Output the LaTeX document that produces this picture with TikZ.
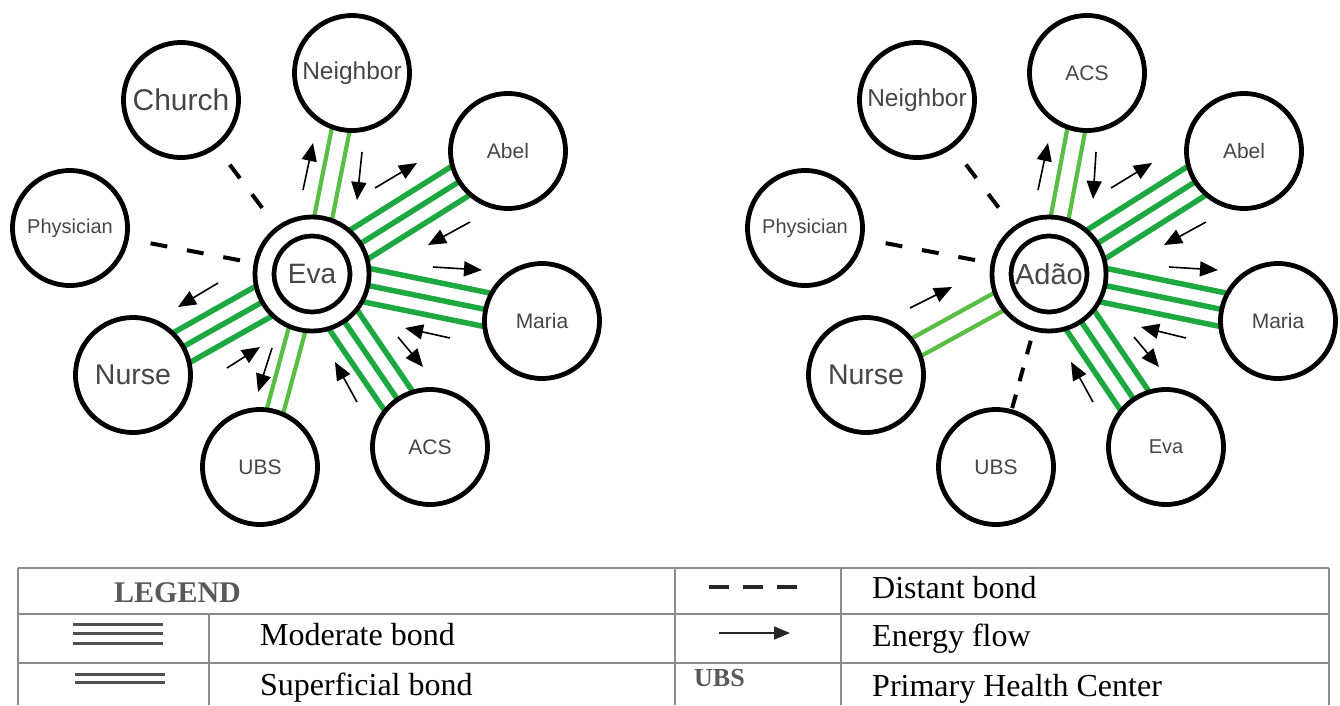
\documentclass[tikz,border=0pt]{standalone}
\usepackage{fontspec}
\setmainfont{Liberation Serif}
\newfontfamily\sansf{Liberation Sans}
\usetikzlibrary{calc,arrows.meta}
\pgfdeclarelayer{bg}
\pgfsetlayers{bg,main}
\definecolor{gthree}{RGB}{30,168,66}
\definecolor{gtwo}{RGB}{88,190,68}
\definecolor{txtg}{RGB}{70,70,70}
\definecolor{tabg}{RGB}{140,140,140}
\definecolor{symg}{RGB}{80,80,80}
\newcommand\fsz[1]{\fontsize{#1}{#1}\selectfont}
\newcommand\bondset[4]{\foreach \o in {#3}{\draw[#4] ($(#1.center)!\o!90:(#2.center)$) -- ($(#2.center)!\o!-90:(#1.center)$);}}
\newcommand\flowar[3]{\coordinate (#1s) at (#2); \coordinate (#1e) at (#3); \draw[flow] (#1s) -- (#1e);}
\tikzset{
  pnode/.style={circle, draw, line width=4.8pt, minimum size=115pt, inner sep=0pt, fill=white, text=txtg, font=\sansf\fsz{#1}},
  hub/.style={circle, draw, line width=4.8pt, double=white, double distance=14.2pt, minimum size=95pt, inner sep=0pt, fill=white, text=txtg, font=\sansf\fsz{#1}},
  modbond/.style={line width=5.5pt, draw=gthree},
  supbond/.style={line width=4.2pt, draw=gtwo},
  distant/.style={line width=4pt, draw=black, dash pattern=on 17pt off 20pt},
  flow/.style={line width=1.6pt, draw=black, -{Triangle[length=18pt,width=15pt]}},
  tabline/.style={line width=2.5pt, draw=tabg},
  legtxt/.style={anchor=base west, inner sep=0pt, font=\fsz{32}},
}
\begin{document}
\begin{tikzpicture}[x=1pt,y=-1pt]
\useasboundingbox (0,0) rectangle (1340,705);
\clip (0,0) rectangle (1340,705);

% ---------- left network (Eva) ----------
\node[pnode=30]   (ch) at (181,100) {Church};
\node[pnode=24.5] (nb) at (352,73)  {Neighbor};
\node[pnode=20]   (ph) at (70,228)  {Physician};
\node[pnode=21]   (ab) at (508,151) {Abel};
\node[pnode=21]   (ma) at (542,321) {Maria};
\node[pnode=21]   (ac) at (430,447) {ACS};
\node[pnode=21]   (ub) at (260,467) {UBS};
\node[pnode=28.5] (nu) at (133,375) {Nurse};
\node[hub=28]     (ev) at (312,274) {Eva};

% ---------- right network (Adão) ----------
\node[pnode=24.5] (rnb) at (917,100)  {Neighbor};
\node[pnode=20]   (rph) at (805,228)  {Physician};
\node[pnode=21]   (rac) at (1087,73)  {ACS};
\node[pnode=21]   (rab) at (1244,151) {Abel};
\node[pnode=21]   (rma) at (1278,321) {Maria};
\node[pnode=20]   (rev) at (1166,447) {Eva};
\node[pnode=21]   (rub) at (996,467)  {UBS};
\node[pnode=28.5] (rnu) at (866,375)  {Nurse};
\node[hub=29]     (ad)  at (1049,274) {Adão};

\begin{pgfonlayer}{bg}
  \fill[white] (0,0) rectangle (1340,705);
  % left bonds
  \bondset{nb}{ev}{-9pt,9pt}{supbond}
  \bondset{ab}{ev}{-17pt,0pt,17pt}{modbond}
  \bondset{ma}{ev}{-17pt,0pt,17pt}{modbond}
  \bondset{ac}{ev}{-17pt,0pt,17pt}{modbond}
  \bondset{ub}{ev}{-8.5pt,8.5pt}{supbond}
  \bondset{nu}{ev}{-17pt,0pt,17pt}{modbond}
  % right bonds
  \bondset{rac}{ad}{-9pt,9pt}{supbond}
  \bondset{rab}{ad}{-17pt,0pt,17pt}{modbond}
  \bondset{rma}{ad}{-17pt,0pt,17pt}{modbond}
  \bondset{rev}{ad}{-17pt,0pt,17pt}{modbond}
  \bondset{rnu}{ad}{-10pt,10pt}{supbond}
\end{pgfonlayer}

% distant bonds
\draw[distant, shorten <=81pt, shorten >=81pt] (ch.center) -- (ev.center);
\draw[distant, shorten <=82pt, shorten >=73pt] (ph.center) -- (ev.center);
\draw[distant, shorten <=81pt, shorten >=81pt] (rnb.center) -- (ad.center);
\draw[distant, shorten <=82pt, shorten >=73pt] (rph.center) -- (ad.center);
\draw[distant, dash pattern=on 14pt off 14pt, shorten <=61pt, shorten >=64pt] (rub.center) -- (ad.center);

% energy flow, left
\flowar{a1}{303,190}{313,143}
\flowar{a2}{362,152}{357,200}
\flowar{a3}{375,188}{417,163}
\flowar{a4}{470,222}{428,245}
\flowar{a5}{433,267}{482,270}
\flowar{a6}{450,338}{405,328}
\flowar{a7}{398,337}{423,367}
\flowar{a8}{357,402}{335,362}
\flowar{a9}{218,283}{178,307}
\flowar{a10}{227,368}{260,347}
\flowar{a11}{272,348}{258,392}
% energy flow, right
\flowar{b1}{1038,190}{1048,143}
\flowar{b2}{1096,152}{1093,199}
\flowar{b3}{1111,188}{1152,163}
\flowar{b4}{1206,222}{1164,245}
\flowar{b5}{1169,267}{1218,270}
\flowar{b6}{1186,338}{1141,327}
\flowar{b7}{1134,337}{1159,367}
\flowar{b8}{1093,402}{1071,362}
\flowar{b9}{910,308}{952,287}

% ---------- legend table ----------
\draw[tabline] (18,568) -- (1329,568);
\draw[tabline] (18,614) -- (1329,614);
\draw[tabline] (18,663) -- (1329,663);
\draw[tabline] (18,568) -- (18,705);
\draw[tabline] (1329,568) -- (1329,705);
\draw[tabline] (675,568) -- (675,705);
\draw[tabline] (841,568) -- (841,705);
\draw[tabline] (209,614) -- (209,705);

\node[anchor=base west, inner sep=0pt, font=\bfseries\fsz{30}, text=black!65] (lg) at (114,602) {LEGEND};
\node[legtxt] (lmod) at (260,645) {Moderate bond};
\node[legtxt] (lsup) at (260,695) {Superficial bond};
\node[legtxt] (ldis) at (872,598) {Distant bond};
\node[legtxt] (lene) at (872,646) {Energy flow};
\node[legtxt] (lphc) at (872,696) {Primary Health Center};
\node[anchor=base west, inner sep=0pt, font=\bfseries\fsz{26}, text=black!65] (lubs) at (694,686) {UBS};

\foreach \yy in {624,633,643} \draw[symg, line width=3pt] (73,\yy) -- (163,\yy);
\foreach \yy in {674,682} \draw[symg, line width=3pt] (75,\yy) -- (165,\yy);
\draw[black!85, line width=4pt, dash pattern=on 20pt off 14pt] (709,587) -- (797,587);
\draw[black!85, line width=1.6pt, -{Triangle[length=16pt,width=13pt]}] (719,633) -- (790,633);
\end{tikzpicture}
\end{document}
